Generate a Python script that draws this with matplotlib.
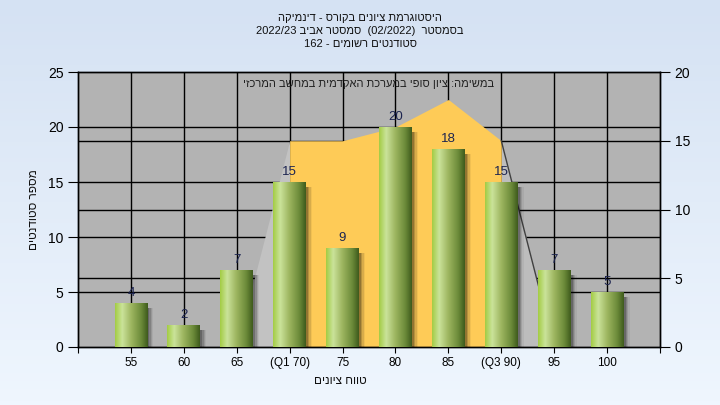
import re
import numpy as np
import matplotlib
matplotlib.use('Agg')
import matplotlib.pyplot as plt
from matplotlib.colors import LinearSegmentedColormap
from matplotlib.transforms import blended_transform_factory

plt.rcParams['font.family'] = ['Liberation Sans', 'DejaVu Sans']

# data
categories = ['55', '60', '65', '(Q1 70)', '75', '80', '85', '(Q3 90)', '95', '100']
students = [4, 2, 7, 15, 9, 20, 18, 15, 7, 5]
# area series on the right axis (only 65..95 has values)
area_pos = [3, 4, 5, 6, 7, 8, 9]
area_vals = [0, 15, 15, 16, 18, 15, 0]

title_lines = ['היסטוגרמת ציונים בקורס - דינמיקה',
               'בסמסטר  (02/2022)  סמסטר אביב 2022/23',
               'סטודנטים רשומים - 162']
legend_text = 'במשימה: ציון סופי במערכת האקדמית במחשב המרכזי'
xlabel = 'טווח ציונים'
ylabel = 'מספר סטודנטים'


def rtl(s):
    # crude visual ordering so hebrew reads right to left
    toks = re.findall(r'[0-9A-Za-z/]+|.', s)
    mirror = {'(': ')', ')': '('}
    return ''.join(mirror.get(t, t) for t in reversed(toks))


fig = plt.figure(figsize=(7.2, 4.05), dpi=100)

# light blue gradient background
bg = fig.add_axes([0, 0, 1, 1], zorder=-10)
bg.imshow(np.linspace(0, 1, 100).reshape(-1, 1),
          cmap=LinearSegmentedColormap.from_list('bg', ['#d5e2f3', '#eff6fe']),
          aspect='auto', extent=[0, 1, 0, 1])
bg.axis('off')

rect = [78 / 720, 1 - 347 / 405, (660 - 78) / 720, (347 - 72) / 405]
ax2 = fig.add_axes(rect)          # right scale, drawn underneath
ax = ax2.twinx()                   # left scale, bars on top
ax.set_zorder(2)
ax2.set_zorder(1)
ax.patch.set_visible(False)
ax2.set_facecolor('#b3b3b3')

x = np.arange(1, len(categories) + 1)
ax.set_xlim(0, 11)
ax.set_ylim(0, 25)
ax2.set_ylim(0, 20)

# grid lines, all underneath the area
for v in [5, 10, 15, 20]:
    ax2.plot([0, 1], [v, v], color='black', lw=1.0, zorder=1,
             transform=blended_transform_factory(ax2.transAxes, ax.transData))
for v in [5, 10, 15]:
    ax2.axhline(v, color='black', lw=1.0, zorder=1)
for xi in x:
    ax2.axvline(xi, color='black', lw=1.0, zorder=1)

# area series
ax2.fill_between(area_pos[:2], area_vals[:2], color='#c2c2c2', lw=0, zorder=2)
ax2.fill_between(area_pos[-2:], area_vals[-2:], color='#bdbdbd', lw=0, zorder=2)
ax2.fill_between(area_pos[1:-1], area_vals[1:-1], color='#fecb57', lw=0, zorder=2)
ax2.plot(area_pos[-2:], area_vals[-2:], color='#404040', lw=1, zorder=3)

# bar shadows
for k, a in enumerate([0.2, 0.15, 0.1, 0.05]):
    ax.bar(x + 0.04 + 0.025 * k, np.array(students) - 0.15, bottom=-0.3, width=0.62,
           color='black', alpha=a, lw=0, zorder=1)

bars = ax.bar(x, students, width=0.62, color='none', lw=0, zorder=3)
cyl = LinearSegmentedColormap.from_list(
    'cyl', [(0, '#a3cc43'), (0.22, '#cae39a'), (0.5, '#9db55f'),
            (0.8, '#6b8a39'), (1, '#3e5a1c')])
grad = np.linspace(0, 1, 256).reshape(1, -1)
for b in bars:
    im = ax.imshow(grad, cmap=cyl, aspect='auto', zorder=3,
                   extent=[b.get_x(), b.get_x() + b.get_width(), 0, b.get_height()])
    im.set_clip_path(b)
ax.set_xlim(0, 11)
ax.set_ylim(0, 25)

for xi, v in zip(x, students):
    ax.annotate(str(v), (xi, v), xytext=(0, 3), textcoords='offset points',
                ha='center', va='bottom', fontsize=9.5, color='#1c2450', zorder=5)

# axes / ticks
ax.yaxis.tick_left()
ax.set_yticks([0, 5, 10, 15, 20, 25])
ax2.yaxis.tick_right()
ax2.set_yticks([0, 5, 10, 15, 20])
ax.tick_params(axis='y', labelsize=10, length=7, direction='out', colors='black')
ax2.tick_params(axis='y', labelsize=10, length=7, direction='out', colors='black')
ax.tick_params(axis='y', labelleft=True, labelright=False, left=True, right=False)
ax2.set_xticks(range(0, 12))
ax2.set_xticklabels([''] + categories + [''])
ax2.tick_params(axis='x', labelsize=8.5, length=4, direction='out')
ax.xaxis.set_visible(False)
for a in (ax, ax2):
    for s in a.spines.values():
        s.set_color('black')
        s.set_linewidth(1)

ax2.text(0.5, 0.955, rtl(legend_text), transform=ax2.transAxes, ha='center',
         va='center', fontsize=8, color='#202020', zorder=6)

for i, line in enumerate(title_lines):
    fig.text(0.5, 1 - (18 + 13 * i) / 405, rtl(line), ha='center', va='center',
             fontsize=8, color='#101010')
fig.text(340 / 720, 1 - 381 / 405, rtl(xlabel), ha='center', va='center',
         fontsize=8.5, color='#101010')
fig.text(34 / 720, 1 - 210 / 405, rtl(ylabel), ha='center', va='center',
         rotation=90, fontsize=8.5, color='#101010')

fig.savefig('out.png', dpi=100)
